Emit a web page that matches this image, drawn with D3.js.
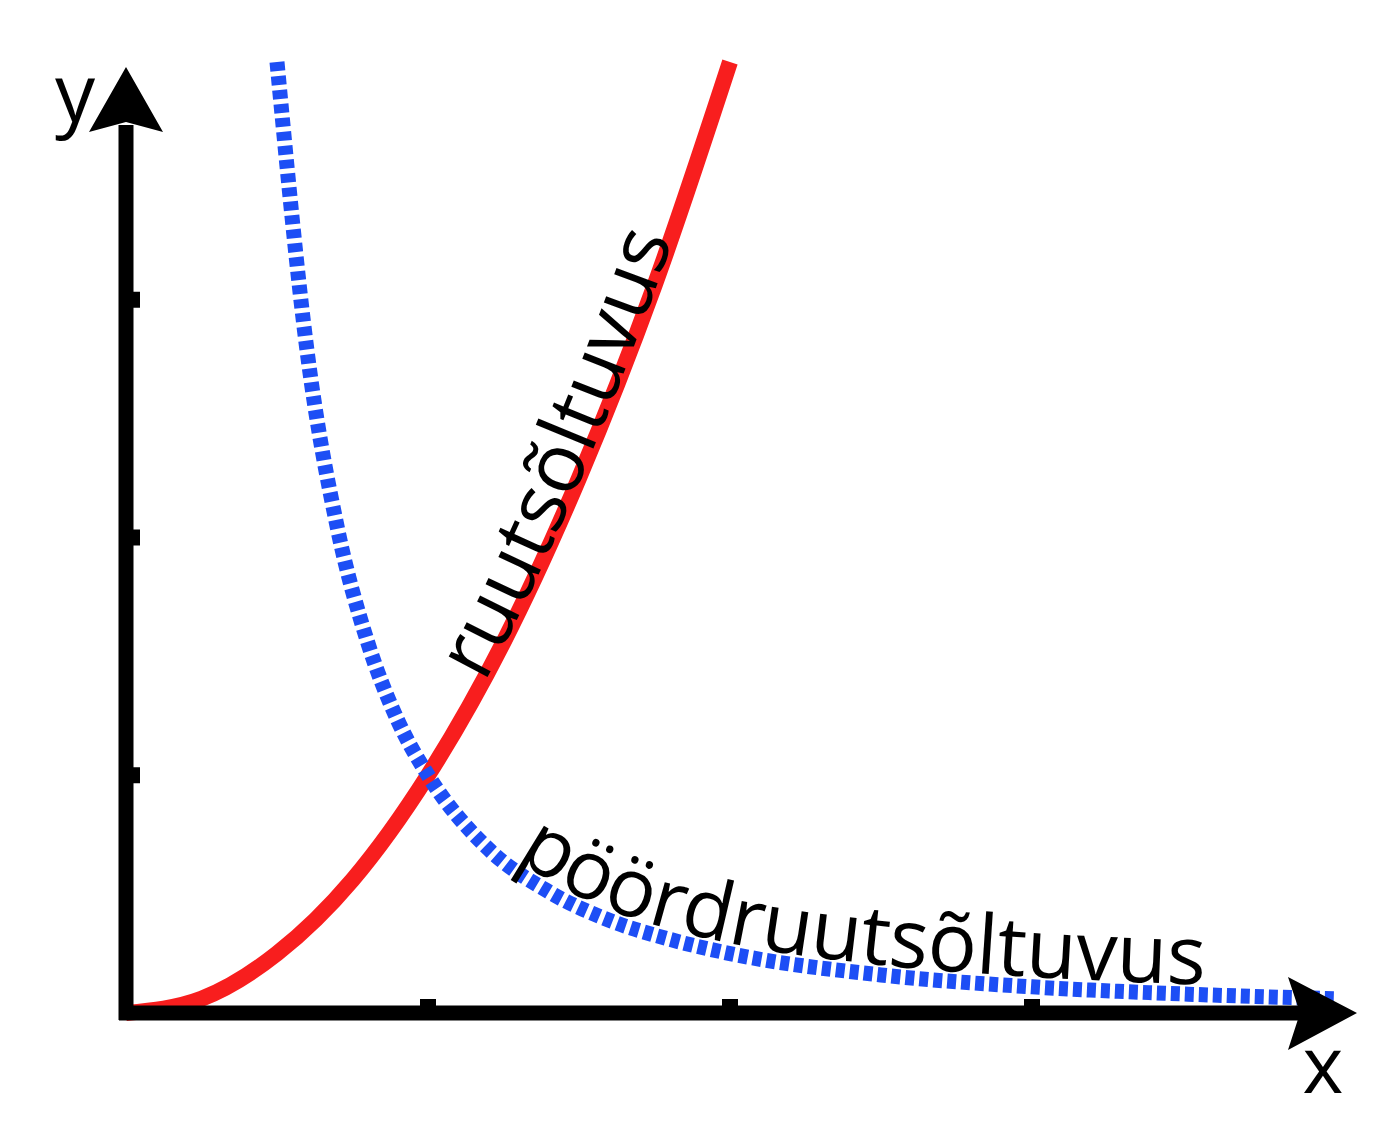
<!DOCTYPE html>
<html>
<head>
<meta charset="utf-8">
<script src="https://cdn.jsdelivr.net/npm/d3@7"></script>
<style>
  body { margin: 0; background: #fff; }
</style>
</head>
<body>
<script>
// values
const redX = [0, 0.25, 0.5, 0.75, 1, 1.25, 1.5, 1.75, 2];
const redY = [0, 0.06, 0.25, 0.56, 1, 1.56, 2.25, 3.06, 4];
const blueX = [0.5, 0.6, 0.7, 0.8, 0.9, 1, 1.2, 1.4, 1.6, 1.8, 2, 2.5, 3, 3.5, 4];
const blueY = [4, 2.78, 2.04, 1.56, 1.23, 1, 0.69, 0.51, 0.39, 0.31, 0.25, 0.16, 0.11, 0.08, 0.06];
const xTicks = [1, 2, 3];
const yTicks = [1, 2, 3];
const redLabel = "ruutsõltuvus";
const blueLabel = "pöördruutsõltuvus";

const width = 1400;
const height = 1135;
const font = "'Open Sans', sans-serif";

const svg = d3.select("body").append("svg")
    .attr("width", width)
    .attr("height", height);

const x = d3.scaleLinear().domain([0, 4]).range([126, 1334]);
const y = d3.scaleLinear().domain([0, 4]).range([1013, 62]);

const line = d3.line()
    .x(d => x(d[0]))
    .y(d => y(d[1]))
    .curve(d3.curveMonotoneX);

const red = redX.map((v, i) => [v, redY[i]]);
const blue = blueX.map((v, i) => [v, blueY[i]]);

// curves
svg.append("path")
    .attr("id", "redCurve")
    .attr("d", line(red))
    .attr("fill", "none")
    .attr("stroke", "#f81e1e")
    .attr("stroke-width", 16);

svg.append("path")
    .attr("id", "blueCurve")
    .attr("d", line(blue))
    .attr("fill", "none")
    .attr("stroke", "#1d4ef5")
    .attr("stroke-width", 15)
    .attr("stroke-dasharray", "9 5");

// axes
const x0 = x(0), y0 = y(0);
svg.append("line")
    .attr("x1", x0).attr("y1", y0 + 7)
    .attr("x2", x0).attr("y2", 125)
    .attr("stroke", "#000").attr("stroke-width", 15);
svg.append("line")
    .attr("x1", x0 - 7).attr("y1", y0)
    .attr("x2", 1300).attr("y2", y0)
    .attr("stroke", "#000").attr("stroke-width", 15);

// arrow heads
svg.append("path")
    .attr("d", `M${x0},67 L${x0 + 37},132 L${x0},122 L${x0 - 37},132 Z`)
    .attr("fill", "#000");
svg.append("path")
    .attr("d", `M1357,${y0} L1288,${y0 - 36} L1300,${y0} L1288,${y0 + 37} Z`)
    .attr("fill", "#000");

// tick stubs
svg.selectAll(".xtick")
    .data(xTicks)
    .enter()
    .append("rect")
    .attr("class", "xtick")
    .attr("x", d => x(d) - 8)
    .attr("y", y0 - 14)
    .attr("width", 16)
    .attr("height", 8)
    .attr("fill", "#000");

svg.selectAll(".ytick")
    .data(yTicks)
    .enter()
    .append("rect")
    .attr("class", "ytick")
    .attr("x", x0 + 6)
    .attr("y", d => y(d) - 8)
    .attr("width", 8)
    .attr("height", 16)
    .attr("fill", "#000");

// axis letters
svg.append("text")
    .attr("x", 55).attr("y", 122)
    .attr("font-family", font)
    .attr("font-size", 80)
    .text("y");
svg.append("text")
    .attr("x", 1323).attr("y", 1093)
    .attr("text-anchor", "middle")
    .attr("font-family", font)
    .attr("font-size", 78)
    .text("x");

// find where a path reaches a given x pixel
function offsetAt(id, px) {
    const p = document.getElementById(id);
    const len = p.getTotalLength();
    for (let s = 0; s <= len; s += 1) {
        if (p.getPointAtLength(s).x >= px) return s;
    }
    return 0;
}

// labels along the curves
svg.append("text")
    .attr("font-family", font)
    .attr("font-size", 82)
    .attr("dy", 2)
    .append("textPath")
    .attr("href", "#redCurve")
    .attr("startOffset", offsetAt("redCurve", x(1.18)))
    .text(redLabel);

svg.append("text")
    .attr("font-family", font)
    .attr("font-size", 82)
    .attr("dy", -10)
    .append("textPath")
    .attr("href", "#blueCurve")
    .attr("startOffset", offsetAt("blueCurve", x(1.27)))
    .text(blueLabel);
</script>
</body>
</html>
